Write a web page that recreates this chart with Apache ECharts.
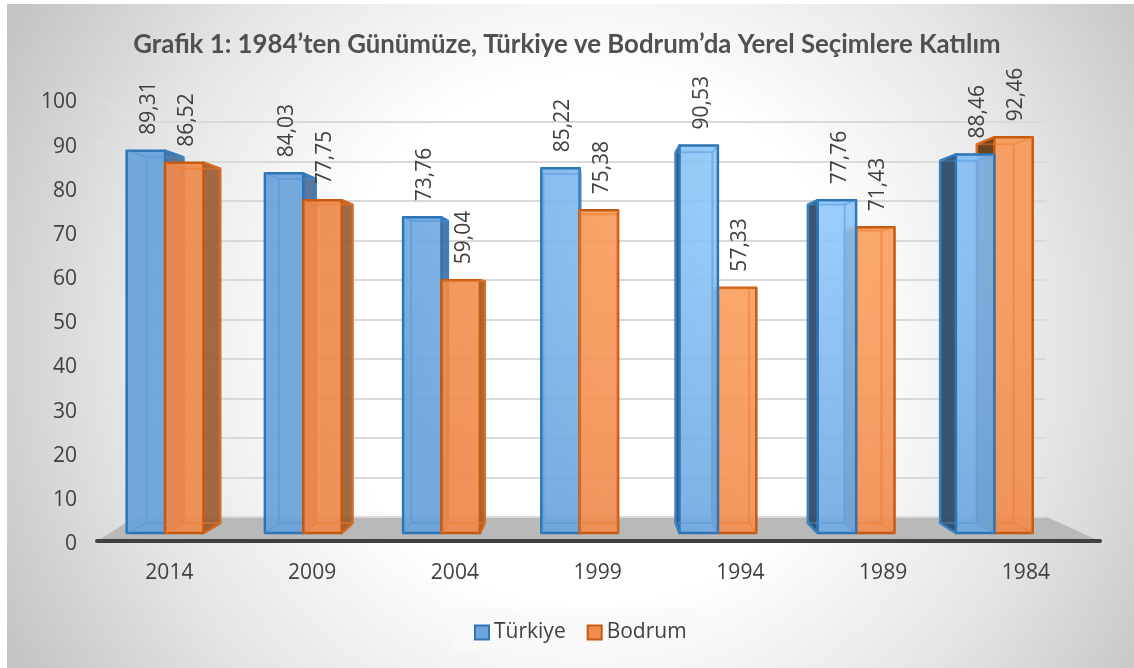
<!DOCTYPE html>
<html><head><meta charset="utf-8">
<style>html,body{margin:0;padding:0;background:#fff}#c{width:1134px;height:668px}</style>
<script src="https://cdn.jsdelivr.net/npm/echarts@6/dist/echarts.min.js"></script>
</head><body><div id="c"></div>
<script>
const years = ['2014','2009','2004','1999','1994','1989','1984'];
const turkiye = [89.31,84.03,73.76,85.22,90.53,77.76,88.46];
const bodrum = [86.52,77.75,59.04,75.38,57.33,71.43,92.46];
const ticks = [0,10,20,30,40,50,60,70,80,90,100];

const chart = echarts.init(document.getElementById('c'));
const VX = 590, VY = 302, DEPTH = 0.957;
const back = p => [VX + (p[0]-VX)*DEPTH, VY + (p[1]-VY)*DEPTH];
const RG = echarts.graphic.RadialGradient;
const palettes = {
  blue: {
    front: () => new RG(790,170,450,[{offset:0,color:'rgba(148,204,255,0.86)'},{offset:1,color:'rgba(106,163,218,0.92)'}],true),
    edge:'#2e75b6', inner:'rgba(60,130,200,0.45)', over:'rgba(80,150,220,0.4)', tint:'rgba(91,155,213,0.12)', top:'rgba(150,200,245,0.35)',
    sideR:'rgba(62,100,142,0.85)', sideL:'rgba(50,76,102,0.95)'
  },
  orange: {
    front: () => new RG(790,170,450,[{offset:0,color:'rgba(255,168,102,0.9)'},{offset:1,color:'rgba(238,138,78,0.92)'}],true),
    edge:'#c55a11', inner:'rgba(237,125,49,0.6)', over:'rgba(237,125,49,0.5)', tint:'rgba(237,125,49,0.10)', top:'rgba(250,170,110,0.35)',
    sideR:'rgba(150,88,45,0.88)', sideL:'rgba(100,58,24,0.95)'
  }
};
const fmt = v => v.toFixed(2).replace('.',',');

function makeRender(pal, offset){
  return function(params, api){
    const i = api.value(0), v = api.value(1);
    const base = api.coord([i,0]), top = api.coord([i,v]);
    const w = api.size([1,0])[0]*0.278;
    const xl = base[0]+offset*w, xr = xl+w, yb = base[1], yt = top[1];
    const fTL=[xl,yt],fTR=[xr,yt],fBR=[xr,yb],fBL=[xl,yb];
    const bTL=back(fTL),bTR=back(fTR),bBR=back(fBR),bBL=back(fBL);
    const cx = base[0]+offset*w+w/2;
    const z = 1000-Math.round(Math.abs((base[0]+(offset+0.5)*w)-VX));
    const poly=(pts,fill,stroke,lw,z2)=>({type:'polygon',z2,shape:{points:pts},
      style:{fill,stroke,lineWidth:lw,lineJoin:'round'}});
    const kids=[];
    kids.push(poly([bTL,bTR,bBR,bBL],pal.tint,pal.inner,1.5,z));
    kids.push(poly([fBL,fBR,bBR,bBL],pal.tint,pal.inner,1.5,z+0.1));
    kids.push(poly([fTL,fTR,bTR,bTL],pal.top,pal.inner,1.5,z+0.2));
    const leftOuter = bTL[0] < fTL[0];
    const rightOuter = bTR[0] > fTR[0];
    kids.push(poly([fTL,bTL,bBL,fBL], leftOuter?pal.sideL:pal.tint, leftOuter?pal.edge:pal.inner, leftOuter?2.5:1.5, z+0.3));
    kids.push(poly([fTR,bTR,bBR,fBR], rightOuter?pal.sideR:pal.tint, rightOuter?pal.edge:pal.inner, rightOuter?2.5:1.5, z+0.4));
    kids.push(poly([fTL,fTR,fBR,fBL],pal.front(),pal.edge,2.5,z+0.5));
    // inner box edges showing through the translucent front face
    kids.push(poly([bTL,bTR,bBR,bBL],'none',pal.over,2,z+0.6));
    [[fTL,bTL],[fTR,bTR],[fBL,bBL],[fBR,bBR]].forEach(s=>{
      kids.push({type:'line',z2:z+0.6,shape:{x1:s[0][0],y1:s[0][1],x2:s[1][0],y2:s[1][1]},
        style:{stroke:pal.over,lineWidth:1.5}});
    });
    kids.push({type:'text',x:cx+3,y:yt-16,rotation:Math.PI/2,z2:5000,
      style:{text:fmt(v),x:0,y:0,fill:'#404040',font:'21px "Open Sans"',
        textAlign:'left',textVerticalAlign:'middle',align:'left',verticalAlign:'middle'}});
    return {type:'group',children:kids};
  };
}

// plane geometry
const AX = {left:97,right:1100,top:97,bottom:541};        // floor edge, thick axis line
const LABELS = {left:98,right:1097.25,top:102.5,bottom:544}; // tick label positions
const WALL = {left:135,right:1046,top:122,bottom:517};    // back wall gridlines
const FRONT = {left:96,right:1063.4,top:105,bottom:533};  // front plane of the bars
const gridOf = g => ({left:g.left,top:g.top,width:g.right-g.left,height:g.bottom-g.top});
const yOn = (g,t) => g.bottom-(g.bottom-g.top)*t/100;

const bgGrad = new RG(590,340,660,[
  {offset:0,color:'#ffffff'},{offset:0.4,color:'#ffffff'},{offset:0.72,color:'#e4e4e4'},{offset:1,color:'#c4c4c4'}],true);

const graphics = [
  {type:'rect',z:-10,silent:true,shape:{x:7,y:4,width:1127,height:664},style:{fill:bgGrad}},
  {type:'polygon',z:-1,silent:true,shape:{points:[[99,540],[WALL.left,WALL.bottom],[WALL.right+1,WALL.bottom],[1097,540]]},style:{fill:'#b9b9b9'}}
];
ticks.forEach(t=>{ if(t>0) graphics.push({type:'line',z:-5,silent:true,
  shape:{x1:AX.left,y1:yOn(AX,t),x2:WALL.left,y2:yOn(WALL,t)},
  style:{stroke:'rgba(232,232,232,0.35)',lineWidth:2}});});

const hiddenX = i => ({type:'category',gridIndex:i,data:years,show:false});
const hiddenY = (i,show) => ({type:'value',gridIndex:i,min:0,max:100,interval:10,
  axisLine:{show:false},axisTick:{show:false},axisLabel:{show:false},
  splitLine:{show:show,lineStyle:{color:'#d9d9d9',width:2}}});

chart.setOption({
  animation:false,
  title:{text:'Grafik 1: 1984’ten Günümüze, Türkiye ve Bodrum’da Yerel Seçimlere Katılım',left:'center',top:27,
    textStyle:{fontFamily:'Lato',fontWeight:'bold',fontSize:25.8,color:'#505050'}},
  graphic:graphics,
  legend:{left:453,top:609,padding:[13,11,9,21],backgroundColor:'rgba(248,248,248,0.75)',itemWidth:14,itemHeight:14,itemGap:21,
    textStyle:{fontFamily:'Open Sans',fontSize:21,color:'#404040'},
    data:[
      {name:'Türkiye',icon:'rect',itemStyle:{color:'#70a5db',borderColor:'#2e75b6',borderWidth:2}},
      {name:'Bodrum',icon:'rect',itemStyle:{color:'#ee8c50',borderColor:'#c55a11',borderWidth:2}}
    ]},
  grid:[gridOf(AX),gridOf(FRONT),gridOf(WALL),gridOf(LABELS)],
  xAxis:[
    {type:'category',gridIndex:0,data:years,
     axisLine:{lineStyle:{color:'#404040',width:4,cap:'round'}},axisTick:{show:false},axisLabel:{show:false}},
    hiddenX(1),hiddenX(2),
    {type:'category',gridIndex:3,data:years,
     axisLine:{show:false},axisTick:{show:false},
     axisLabel:{color:'#404040',fontFamily:'Open Sans',fontSize:21,margin:19}}
  ],
  yAxis:[
    hiddenY(0,false),hiddenY(1,false),hiddenY(2,true),
    {type:'value',gridIndex:3,min:0,max:100,interval:10,
     axisLine:{show:false},axisTick:{show:false},splitLine:{show:false},
     axisLabel:{color:'#404040',fontFamily:'Open Sans',fontSize:21,margin:21}}
  ],
  series:[
    {name:'Türkiye',type:'custom',xAxisIndex:1,yAxisIndex:1,silent:true,
     renderItem:makeRender(palettes.blue,-1),data:turkiye.map((v,i)=>[i,v]),encode:{x:0,y:1}},
    {name:'Bodrum',type:'custom',xAxisIndex:1,yAxisIndex:1,silent:true,
     renderItem:makeRender(palettes.orange,0),data:bodrum.map((v,i)=>[i,v]),encode:{x:0,y:1}}
  ]
});
</script></body></html>
